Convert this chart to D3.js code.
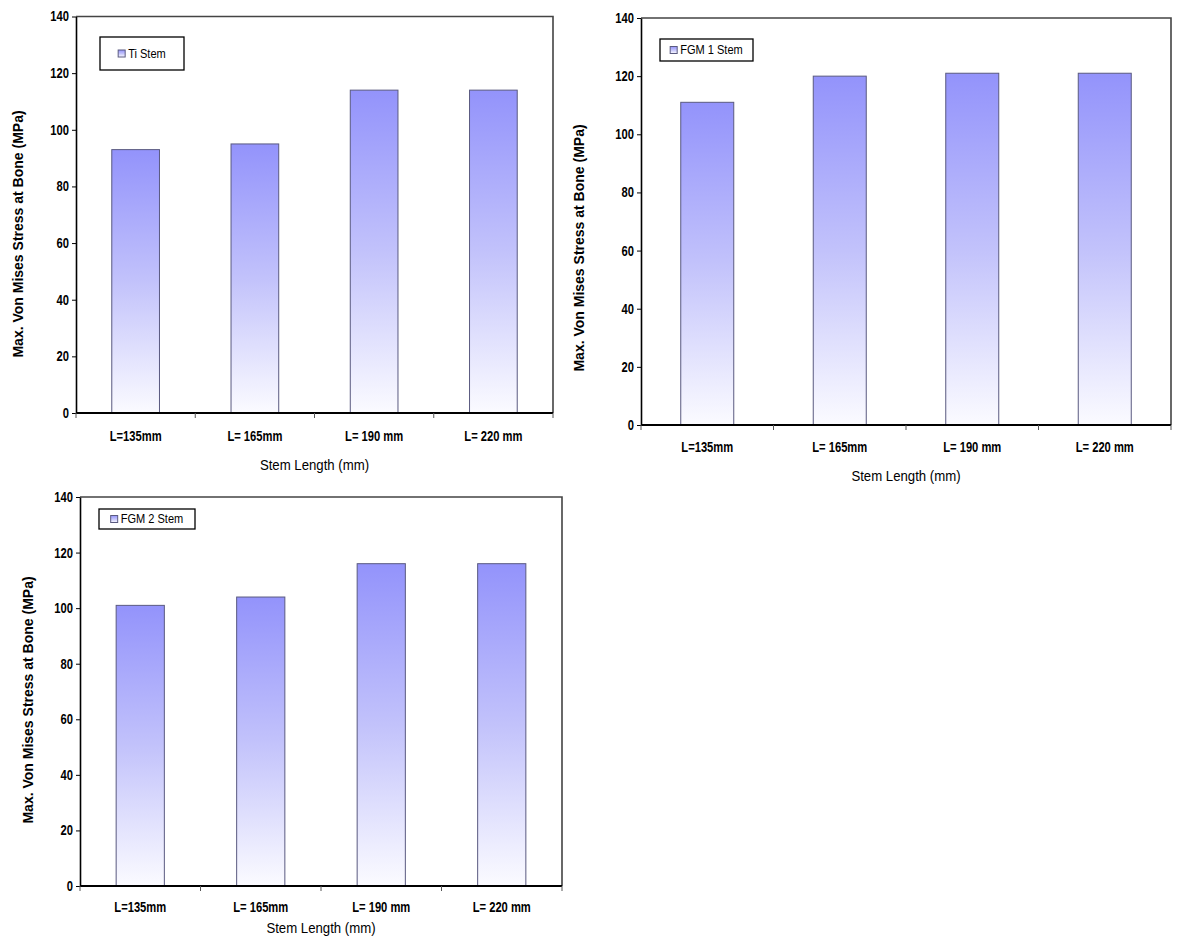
<!DOCTYPE html>
<html>
<head>
<meta charset="utf-8">
<script src="https://cdn.jsdelivr.net/npm/d3@7"></script>
<style>
  html, body { margin: 0; padding: 0; background: #fff; }
  svg { display: block; }
  .narrow { font-family: "Liberation Sans Narrow", "Arial Narrow", "Liberation Sans", Arial, sans-serif; }
  .wide { font-family: "Liberation Sans", Arial, sans-serif; }
</style>
</head>
<body>
<svg id="chart" width="1200" height="947"></svg>
<script>
// ---- data ----
const categories = ["L=135mm", "L= 165mm", "L= 190 mm", "L= 220 mm"];
const tiStem = [93, 95, 114, 114];
const fgm1Stem = [111, 120, 121, 121];
const fgm2Stem = [101, 104, 116, 116];
const seriesNames = ["Ti Stem", "FGM 1 Stem", "FGM 2 Stem"];
const yTicks = [0, 20, 40, 60, 80, 100, 120, 140];
const yTitle = "Max. Von Mises Stress at Bone (MPa)";
const xTitle = "Stem Length (mm)";

// ---- layout (positions only) ----
const panels = [
  { values: tiStem, name: seriesNames[0], x0: 76, x1: 553, y0: 16.5, y1: 413,
    yTitleX: 18, yTitleY: 234, xLabY: 441, xTitleY: 470,
    leg: { x: 100, y: 37, w: 84, h: 33 } },
  { values: fgm1Stem, name: seriesNames[1], x0: 641, x1: 1171, y0: 18, y1: 425,
    yTitleX: 579, yTitleY: 248, xLabY: 452, xTitleY: 481,
    leg: { x: 660, y: 39, w: 93, h: 22 } },
  { values: fgm2Stem, name: seriesNames[2], x0: 80, x1: 562, y0: 497, y1: 886,
    yTitleX: 28, yTitleY: 700, xLabY: 912, xTitleY: 933,
    leg: { x: 99, y: 509, w: 96, h: 20 } }
];
const SX = 0.8; // horizontal squeeze to imitate a narrow face

const svg = d3.select("#chart");
const defs = svg.append("defs");
const grad = defs.append("linearGradient").attr("id", "barGrad")
  .attr("x1", 0).attr("y1", 0).attr("x2", 0).attr("y2", 1);
grad.append("stop").attr("offset", "0%").attr("stop-color", "#9393fb");
grad.append("stop").attr("offset", "50%").attr("stop-color", "#c2c2fb");
grad.append("stop").attr("offset", "100%").attr("stop-color", "#fbfbff");

panels.forEach(p => {
  const g = svg.append("g");
  const x = d3.scaleBand().domain(categories).range([p.x0, p.x1]).paddingInner(0).paddingOuter(0);
  const y = d3.scaleLinear().domain([0, 140]).range([p.y1, p.y0]);
  const bw = x.bandwidth() * 0.4;

  // frame top/right
  g.append("path")
    .attr("d", `M${p.x0},${p.y0}H${p.x1}V${p.y1}`)
    .attr("fill", "none").attr("stroke", "#444").attr("stroke-width", 1.6);

  // bars
  g.selectAll("rect.bar").data(p.values).enter().append("rect")
    .attr("class", "bar")
    .attr("x", (d, i) => x(categories[i]) + (x.bandwidth() - bw) / 2)
    .attr("y", d => y(d))
    .attr("width", bw)
    .attr("height", d => y(0) - y(d))
    .attr("fill", "url(#barGrad)")
    .attr("stroke", "#5a5a80").attr("stroke-width", 1);

  // y axis
  const yAxis = d3.axisLeft(y).tickValues(yTicks).tickSize(4).tickSizeOuter(0);
  const ya = g.append("g").attr("transform", `translate(${p.x0},0)`).call(yAxis);
  ya.select(".domain").attr("stroke", "#000").attr("stroke-width", 1.6);
  ya.selectAll(".tick line").attr("stroke", "#000");
  ya.selectAll(".tick text").attr("class", "narrow")
    .attr("font-size", 14).attr("font-weight", "bold").attr("fill", "#000")
    .attr("x", -7 / SX).attr("transform", `scale(${SX},1)`);

  // x axis (ticks at band boundaries)
  const bounds = categories.map(c => x(c)).concat([p.x1]);
  g.append("line").attr("x1", p.x0).attr("x2", p.x1).attr("y1", p.y1).attr("y2", p.y1)
    .attr("stroke", "#000").attr("stroke-width", 1.8);
  g.selectAll("line.xt").data(bounds).enter().append("line").attr("class", "xt")
    .attr("x1", d => d).attr("x2", d => d).attr("y1", p.y1).attr("y2", p.y1 + 5)
    .attr("stroke", "#555").attr("stroke-width", 1);
  g.selectAll("text.xl").data(categories).enter().append("text").attr("class", "narrow")
    .attr("transform", d => `translate(${x(d) + x.bandwidth() / 2},${p.xLabY}) scale(${SX},1)`)
    .attr("text-anchor", "middle").attr("font-size", 14).attr("font-weight", "bold")
    .text(d => d);

  // titles
  g.append("text").attr("class", "narrow")
    .attr("transform", `translate(${(p.x0 + p.x1) / 2},${p.xTitleY}) scale(0.88,1)`)
    .attr("text-anchor", "middle").attr("font-size", 15).text(xTitle);
  g.append("text").attr("class", "wide")
    .attr("transform", `translate(${p.yTitleX},${p.yTitleY}) rotate(-90)`)
    .attr("text-anchor", "middle").attr("dominant-baseline", "central")
    .attr("font-size", 14).attr("font-weight", "bold").text(yTitle);

  // legend
  const L = p.leg;
  const lg = g.append("g");
  lg.append("rect").attr("x", L.x).attr("y", L.y).attr("width", L.w).attr("height", L.h)
    .attr("fill", "#fff").attr("stroke", "#000").attr("stroke-width", 1.3);
  const t = lg.append("text").attr("class", "narrow")
    .attr("dominant-baseline", "central")
    .attr("font-size", 13).text(p.name);
  const tw = t.node().getComputedTextLength() * 0.85;
  const total = 7 + 3 + tw;
  const sx = L.x + (L.w - total) / 2;
  lg.append("rect").attr("x", sx).attr("y", L.y + L.h / 2 - 3.5).attr("width", 7).attr("height", 7)
    .attr("fill", "url(#barGrad)").attr("stroke", "#5a5a80").attr("stroke-width", 1);
  t.attr("transform", `translate(${sx + 10},${L.y + L.h / 2}) scale(0.85,1)`);
});
</script>
</body>
</html>
